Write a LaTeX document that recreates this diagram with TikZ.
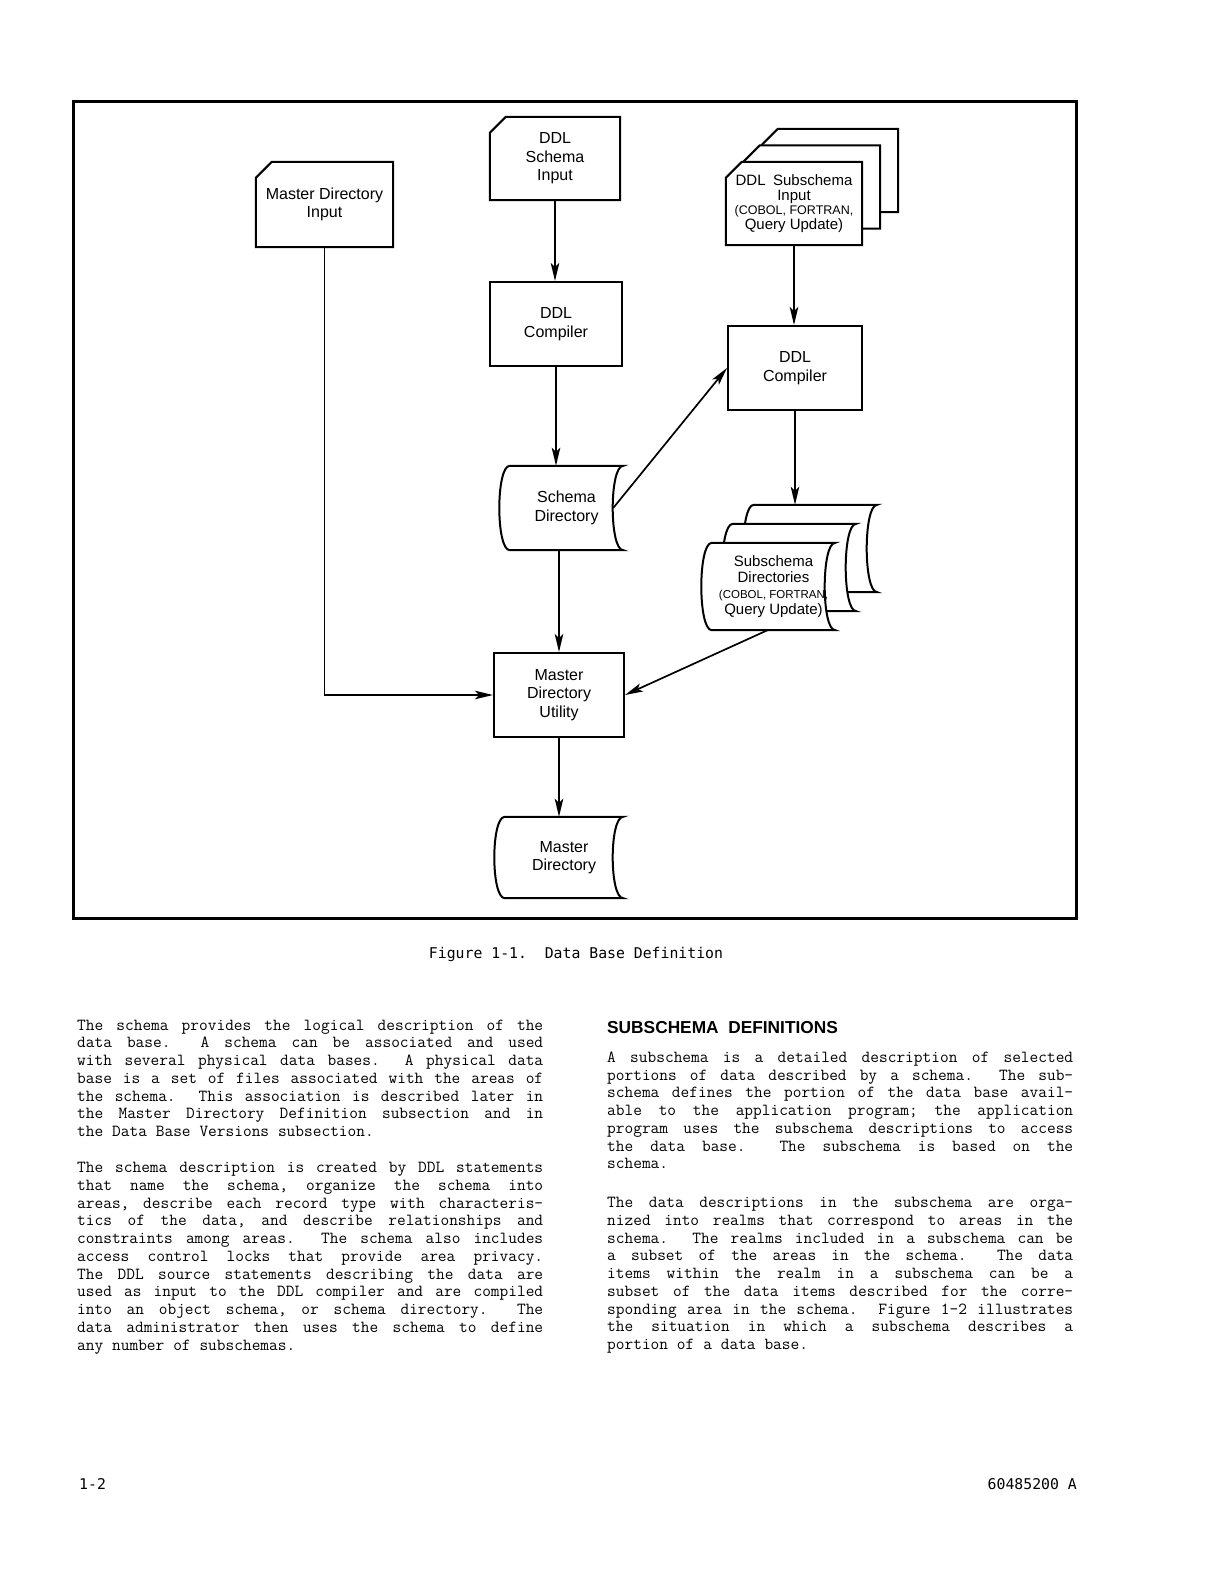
\documentclass[tikz,border=0pt]{standalone}
\usepackage{fontspec}
\setmainfont{Liberation Sans}
\newfontfamily\gothfont{DejaVu Sans Mono}
\usetikzlibrary{arrows.meta,backgrounds}

\newlength{\colw}
\setlength{\colw}{466pt}
\newcommand{\jl}[1]{\noindent\hbox to\colw{\frenchspacing\spaceskip=0.525em plus 1fil\relax #1}}
\newcommand{\lastl}[1]{\noindent\hbox{\frenchspacing\spaceskip=0.525em\relax #1}}

\begin{document}
\begin{tikzpicture}[x=1pt, y=-1pt,
    lbl/.style={align=center, inner sep=0pt, font=\fontsize{16}{18.5}\selectfont},
    boxn/.style={lbl, draw, line width=2pt, minimum width=132pt, minimum height=84pt},
    cardn/.style={lbl, minimum width=134pt, minimum height=84pt},
    storen/.style={lbl, minimum width=116pt, minimum height=84pt},
    outl/.style={line width=2pt, fill=white},
    arr/.style={-{Stealth[length=18pt, width=8.5pt, inset=4pt]}, line width=1.7pt},
    para/.style={anchor=north west, inner sep=0pt, text width=\colw, align=left, font=\ttfamily\fontsize{16.9}{17.75}\selectfont},
    goth/.style={inner sep=0pt, font=\gothfont\fontsize{14.8}{17}\selectfont}
]
\useasboundingbox (0,0) rectangle (1220,1584);

\node[cardn, minimum width=137pt, minimum height=85pt] (mdin) at (324.5,204.5) {Master Directory\\Input};
\node[cardn, minimum width=130pt, minimum height=83pt] (sin) at (555,158.5) {DDL\\Schema\\Input};
\node[boxn] (cmp1) at (556,324) {DDL\\Compiler};
\node[cardn, minimum width=136pt, minimum height=83pt] (subin3) at (830,170.5) {};
\node[cardn, minimum width=136pt, minimum height=83pt] (subin2) at (812,187) {};
\node[cardn, minimum width=136pt, minimum height=83pt, font=\fontsize{15}{14.5}\selectfont] (subin) at (794,203.5)
    {DDL\enspace Subschema\\Input\\{\fontsize{12.5}{14.5}\selectfont (COBOL, FORTRAN,}\\Query Update)};
\node[boxn, minimum width=134pt] (cmp2) at (795,368) {DDL\\Compiler};
\node[storen, minimum width=113pt] (sdir) at (566.5,508) {Schema\\Directory};
\node[storen, minimum width=123pt, minimum height=87pt] (subdir3) at (815.5,548.5) {};
\node[storen, minimum width=123pt, minimum height=87pt] (subdir2) at (794.5,567.5) {};
\node[storen, minimum width=123pt, minimum height=87pt, font=\fontsize{15}{16}\selectfont] (subdir) at (773.5,586.5)
    {Subschema\\Directories\\{\fontsize{11.5}{16}\selectfont (COBOL, FORTRAN,}\\Query Update)};
\node[boxn, minimum width=130pt] (mdu) at (559,695) {Master\\Directory\\Utility};
\node[storen, minimum width=118pt, minimum height=81pt] (mdir) at (564,857.5) {Master\\Directory};

\draw[arr] (sin.south) -- (sin.south |- cmp1.north);
\draw[arr] (cmp1.south) -- (cmp1.south |- sdir.north);
\draw[arr] (mdu.north |- sdir.south) -- (mdu.north);
\draw[arr] (mdu.south) -- (mdu.south |- mdir.north);
\draw[arr] (subin.south) -- (subin.south |- cmp2.north);
\draw[arr] (cmp2.south) -- (cmp2.south |- subdir3.north);
\draw[arr] ([xshift=-10pt]sdir.east) -- (cmp2.west);
\draw[arr] ([xshift=-6pt]subdir.south) -- (mdu.east);
\draw[arr] (mdin.south) |- (mdu.west);

\draw[line width=3pt] (73,102) rectangle (1076,918);

\begin{scope}[on background layer]
\fill[white] (0,0) rectangle (1220,1584);
\foreach \n in {subin3,subin2,subin,mdin,sin}
  \draw[outl] (\n.south west) -- ([yshift=-16pt]\n.north west) -- ([xshift=16pt]\n.north west)
    -- (\n.north east) -- (\n.south east) -- cycle;
\foreach \n in {subdir3,subdir2,subdir,sdir,mdir}
  \draw[outl] (\n.north west) -- (\n.north east)
    .. controls ([xshift=-14pt]\n.north east) and ([xshift=-14pt]\n.south east) .. (\n.south east)
    -- (\n.south west)
    .. controls ([xshift=-14pt]\n.south west) and ([xshift=-14pt]\n.north west) .. (\n.north west) -- cycle;
\end{scope}

\node[goth, anchor=base] (cap) at (576,958) {Figure 1-1.\ \ Data Base Definition};

\node[para] (lpa) at (77,1019.5) {%
\jl{The schema provides the logical description of the}\\
\jl{data base.\ \ A schema can be associated and used}\\
\jl{with several physical data bases.\ \ A physical data}\\
\jl{base is a set of files associated with the areas of}\\
\jl{the schema.\ \ This association is described later in}\\
\jl{the Master Directory Definition subsection and in}\\
\lastl{the Data Base Versions subsection.}};
\node[para] (lpb) at (77,1162) {%
\jl{The schema description is created by DDL statements}\\
\jl{that name the schema, organize the schema into}\\
\jl{areas, describe each record type with characteris-}\\
\jl{tics of the data, and describe relationships and}\\
\jl{constraints among areas.\ \ The schema also includes}\\
\jl{access control locks that provide area privacy.}\\
\jl{The DDL source statements describing the data are}\\
\jl{used as input to the DDL compiler and are compiled}\\
\jl{into an object schema, or schema directory.\ \ The}\\
\jl{data administrator then uses the schema to define}\\
\lastl{any number of subschemas.}};

\node[anchor=base west, inner sep=0pt, font=\bfseries\fontsize{17.3}{20}\selectfont] (rhd) at (607,1033) {SUBSCHEMA\ \ DEFINITIONS};
\node[para] (rpa) at (607,1051.5) {%
\jl{A subschema is a detailed description of selected}\\
\jl{portions of data described by a schema.\ \ The sub-}\\
\jl{schema defines the portion of the data base avail-}\\
\jl{able to the application program; the application}\\
\jl{program uses the subschema descriptions to access}\\
\jl{the data base.\ \ The subschema is based on the}\\
\lastl{schema.}};
\node[para] (rpb) at (607,1197) {%
\jl{The data descriptions in the subschema are orga-}\\
\jl{nized into realms that correspond to areas in the}\\
\jl{schema.\ \ The realms included in a subschema can be}\\
\jl{a subset of the areas in the schema.\ \ The data}\\
\jl{items within the realm in a subschema can be a}\\
\jl{subset of the data items described for the corre-}\\
\jl{sponding area in the schema.\ \ Figure 1-2 illustrates}\\
\jl{the situation in which a subschema describes a}\\
\lastl{portion of a data base.}};

\node[goth, anchor=base west] (pgno) at (79,1489) {1-2};
\node[goth, anchor=base east] (docno) at (1077,1489) {60485200 A};
\end{tikzpicture}
\end{document}
